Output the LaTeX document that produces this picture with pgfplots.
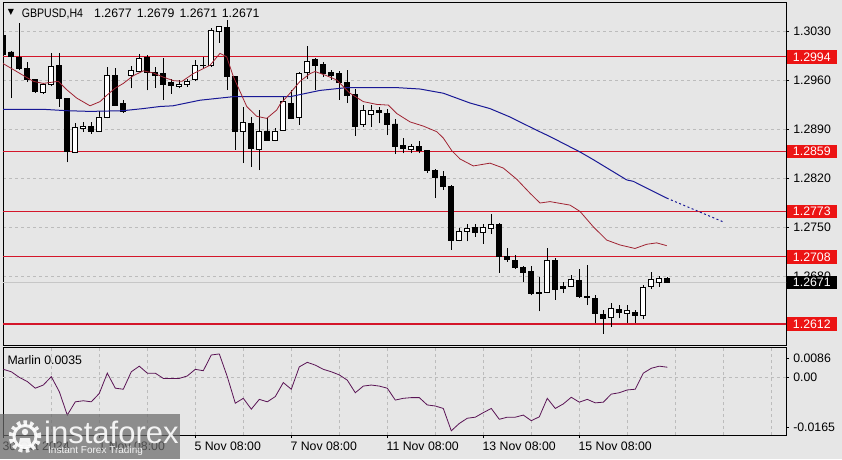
\documentclass[border=0pt]{standalone}
\usepackage{graphicx}
\usepackage{pgfplots}
\pgfplotsset{compat=1.18}
\usepackage{pgfplotstable}
\usepackage{fontspec}
\setmainfont{Liberation Sans}
\newfontfamily\symfont{DejaVu Sans}
\definecolor{bg}{RGB}{230,230,230}
\definecolor{gridc}{RGB}{188,188,188}
\definecolor{lvl}{RGB}{212,22,42}
\definecolor{lvlbox}{RGB}{236,20,20}
\definecolor{maRed}{RGB}{160,35,50}
\definecolor{maBlue}{RGB}{25,25,150}
\definecolor{marlin}{RGB}{90,20,85}

\pgfplotstableread{
i o h l c
0 1.3024 1.3032 1.2995 1.2998
1 1.3001 1.3002 1.2935 1.2995
2 1.2993 1.3043 1.2975 1.2978
3 1.2978 1.2987 1.2958 1.2961
4 1.2961 1.2962 1.2943 1.2944
5 1.2943 1.2956 1.2941 1.2954
6 1.2954 1.2999 1.2952 1.2980
7 1.2981 1.2999 1.2923 1.2935
8 1.2935 1.2935 1.2843 1.2859
9 1.2858 1.2900 1.2857 1.2893
10 1.2892 1.2901 1.2887 1.2895
11 1.2895 1.2901 1.2884 1.2888
12 1.2888 1.2916 1.2887 1.2908
13 1.2908 1.2980 1.2906 1.2968
14 1.2968 1.2978 1.2924 1.2925
15 1.2928 1.2933 1.2914 1.2916
16 1.2968 1.2981 1.2949 1.2974
17 1.2973 1.2998 1.2972 1.2991
18 1.2993 1.2997 1.2946 1.2971
19 1.2971 1.2980 1.2950 1.2967
20 1.2970 1.2993 1.2932 1.2954
21 1.2957 1.2962 1.2941 1.2953
22 1.2952 1.2961 1.2949 1.2955
23 1.2955 1.2963 1.2951 1.2959
24 1.2961 1.2990 1.2959 1.2981
25 1.2981 1.2994 1.2978 1.2982
26 1.2981 1.3035 1.2980 1.3032
27 1.3030 1.3038 1.3014 1.3037
28 1.3036 1.3046 1.2947 1.2966
29 1.2966 1.2967 1.2861 1.2887
30 1.2887 1.2923 1.2842 1.2900
31 1.2899 1.2908 1.2837 1.2863
32 1.2862 1.2918 1.2832 1.2887
33 1.2888 1.2906 1.2874 1.2875
34 1.2874 1.2892 1.2873 1.2888
35 1.2889 1.2937 1.2888 1.2930
36 1.2928 1.2947 1.2905 1.2906
37 1.2908 1.2972 1.2897 1.2970
38 1.2971 1.3009 1.2963 1.2987
39 1.2990 1.2993 1.2947 1.2982
40 1.2983 1.2987 1.2965 1.2970
41 1.2971 1.2975 1.2961 1.2967
42 1.2970 1.2974 1.2933 1.2957
43 1.2957 1.2975 1.2928 1.2939
44 1.2940 1.2948 1.2881 1.2895
45 1.2897 1.2925 1.2894 1.2917
46 1.2912 1.2925 1.2894 1.2918
47 1.2917 1.2922 1.2899 1.2914
48 1.2913 1.2919 1.2882 1.2898
49 1.2898 1.2905 1.2855 1.2866
50 1.2867 1.2878 1.2856 1.2863
51 1.2862 1.2869 1.2856 1.2866
52 1.2866 1.2873 1.2856 1.2860
53 1.2860 1.2860 1.2828 1.2832
54 1.2832 1.2834 1.2792 1.2822
55 1.2823 1.2831 1.2804 1.2808
56 1.2809 1.2811 1.2718 1.2732
57 1.2731 1.2749 1.2730 1.2744
58 1.2744 1.2755 1.2730 1.2749
59 1.2750 1.2755 1.2737 1.2743
60 1.2743 1.2755 1.2727 1.2750
61 1.2749 1.2769 1.2741 1.2754
62 1.2754 1.2757 1.2685 1.2709
63 1.2709 1.2720 1.2701 1.2705
64 1.2703 1.2711 1.2691 1.2693
65 1.2693 1.2695 1.2672 1.2686
66 1.2687 1.2695 1.2653 1.2655
67 1.2657 1.2679 1.2630 1.2656
68 1.2657 1.2720 1.2656 1.2703
69 1.2703 1.2706 1.2647 1.2662
70 1.2665 1.2672 1.2656 1.2663
71 1.2666 1.2682 1.2665 1.2675
72 1.2674 1.2690 1.2649 1.2651
73 1.2651 1.2696 1.2639 1.2650
74 1.2649 1.2654 1.2613 1.2627
75 1.2626 1.2632 1.2598 1.2620
76 1.2622 1.2642 1.2608 1.2634
77 1.2633 1.2639 1.2620 1.2628
78 1.2627 1.2639 1.2614 1.2631
79 1.2629 1.2632 1.2614 1.2624
80 1.2624 1.2668 1.2619 1.2664
81 1.2665 1.2687 1.2662 1.2675
82 1.2672 1.2681 1.2665 1.2677
83 1.2677 1.2679 1.2671 1.2671
}\candles

\pgfplotstableread{
i v
0 0.0023
1 0.0016
2 0.0000
3 -0.0012
4 -0.0031
5 -0.0022
6 0.0002
7 -0.0041
8 -0.0108
9 -0.0070
10 -0.0067
11 -0.0070
12 -0.0046
13 0.0012
14 -0.0031
15 -0.0034
16 0.0016
17 0.0032
18 0.0012
19 0.0012
20 -0.0003
21 -0.0003
22 -0.0003
23 0.0004
24 0.0023
25 0.0019
26 0.0064
27 0.0067
28 0.0002
29 -0.0074
30 -0.0060
31 -0.0091
32 -0.0063
33 -0.0070
34 -0.0055
35 -0.0015
36 -0.0034
37 0.0030
38 0.0043
39 0.0035
40 0.0023
41 0.0016
42 0.0007
43 -0.0008
44 -0.0044
45 -0.0025
46 -0.0022
47 -0.0025
48 -0.0031
49 -0.0065
50 -0.0060
51 -0.0058
52 -0.0058
53 -0.0079
54 -0.0082
55 -0.0089
56 -0.0153
57 -0.0132
58 -0.0117
59 -0.0114
60 -0.0101
61 -0.0089
62 -0.0120
63 -0.0114
64 -0.0114
65 -0.0108
66 -0.0124
67 -0.0113
68 -0.0060
69 -0.0089
70 -0.0076
71 -0.0057
72 -0.0071
73 -0.0063
74 -0.0073
75 -0.0071
76 -0.0048
77 -0.0044
78 -0.0036
79 -0.0034
80 0.0012
81 0.0026
82 0.0032
83 0.0029
}\marlin

\pgfplotsset{
  mainpanel/.style={
    scale only axis, anchor=south west, at={(3pt,113.3pt)},
    width=783pt, height=342.7pt,
    xmin=-0.0375, xmax=97.84, ymin=1.258095, ymax=1.307101,
    scaled ticks=false,
  },
  tick label style={font=\fontsize{12.3}{14}\selectfont},
}
\tikzset{lbl/.style={anchor=west, inner sep=0pt, minimum width=50pt, minimum height=13.5pt, text=white, font=\fontsize{12.3}{14}\selectfont, xshift=0.6pt}}

\begin{document}
\fontsize{12.3}{14}\selectfont
\begin{tikzpicture}[x=1pt,y=1pt]
\fill[bg] (0,0) rectangle (842,459);
\useasboundingbox (0,0) rectangle (842,459);

% ---------- main panel: grid, levels, wicks
\begin{axis}[mainpanel,
  axis background/.style={fill=bg},
  axis line style={black, line width=1pt},
  xtick=\empty, minor xtick={6,12,...,96}, xminorgrids, minor tick length=0pt,
  ytick={1.2680,1.2750,1.2820,1.2890,1.2960,1.3030},
  yticklabels={1.2680,1.2750,1.2820,1.2890,1.2960,1.3030},
  ymajorgrids, ytick pos=right, yticklabel pos=right, tick align=outside,
  major tick length=3pt,
  grid style={gridc, dash pattern=on 3pt off 3pt, line width=0.7pt},
  tick style={black, line width=0.8pt},
  clip mode=individual,
]
\addplot[gray!45, line width=0.7pt] coordinates {(-1,1.2671) (99,1.2671)};
\addplot[lvl, line width=1.2pt] coordinates {(-1,1.2994) (99,1.2994)};
\addplot[lvl, line width=1.2pt] coordinates {(-1,1.2859) (99,1.2859)};
\addplot[lvl, line width=1.2pt] coordinates {(-1,1.2773) (99,1.2773)};
\addplot[lvl, line width=1.2pt] coordinates {(-1,1.2708) (99,1.2708)};
\addplot[lvl, line width=1.2pt] coordinates {(-1,1.2612) (99,1.2612)};
\addplot[draw=none, mark=none,
  error bars/.cd, y dir=plus, y explicit, error mark=none,
  error bar style={draw=black, solid, line width=1pt}]
  table[x=i, y=l, y error plus expr=\thisrow{h}-\thisrow{l}] {\candles};
\end{axis}

% ---------- candle bodies
\begin{axis}[mainpanel, hide axis, ybar stacked, bar width=5pt]
\addplot[draw=none, fill=none] table[x=i, y expr={min(\thisrow{o},\thisrow{c})}] {\candles};
\addplot[draw=black, fill=black, line width=0.9pt] table[x=i, y expr={max(\thisrow{o}-\thisrow{c},0)}] {\candles};
\addplot[draw=black, fill=white, line width=0.9pt] table[x=i, y expr={max(\thisrow{c}-\thisrow{o},0)}] {\candles};
\end{axis}

% ---------- moving averages and price labels
\begin{axis}[mainpanel, hide axis, clip mode=individual]
\addplot[maBlue, line width=1pt] coordinates {
(-0.04,1.2919) (4.96,1.2919) (7.93,1.2917) (10.84,1.2916) (14.96,1.2917)
(17.46,1.2920) (19.59,1.2923) (21.21,1.2924) (24.59,1.2932) (28.71,1.2937)
(33.34,1.2937) (35.84,1.2937) (37.5,1.2941) (39.59,1.2946) (42.93,1.2950)
(49.18,1.2950) (52.09,1.2948) (55.0,1.2942) (58.34,1.2928) (60.84,1.2920)
(63.34,1.2908) (66.68,1.2889) (68.34,1.2880) (72.09,1.2858) (73.75,1.2847)
(77.93,1.2818) (78.75,1.2816) (82.93,1.2792)};
\addplot[maBlue, line width=1pt, dash pattern=on 2pt off 2.5pt] coordinates {(82.93,1.2792) (90.0,1.2758)};
\addplot[maRed, line width=0.8pt] coordinates {
(-0.41,1.2987) (2.71,1.2966) (3.75,1.2959) (5.0,1.2956) (6.88,1.2959)
(7.93,1.2947) (9.18,1.2935) (10.84,1.2924) (12.09,1.2930) (12.93,1.2939)
(13.96,1.2949) (15.0,1.2956) (16.25,1.2967) (17.5,1.2974) (18.75,1.2971)
(20.0,1.2965) (21.25,1.2960) (22.34,1.2959) (23.75,1.2970) (25.84,1.2982)
(27.09,1.2999) (27.93,1.2994) (28.75,1.2966) (30.43,1.2923) (31.68,1.2909)
(32.93,1.2906) (34.18,1.2918) (34.59,1.2926) (35.84,1.2942) (37.09,1.2959)
(38.34,1.2970) (38.96,1.2973) (40.21,1.2968) (41.68,1.2961) (43.34,1.2942)
(45.0,1.2930) (46.68,1.2926) (48.13,1.2925) (49.18,1.2913) (50.84,1.2901)
(52.5,1.2895) (54.18,1.2887) (55.0,1.2878) (56.05,1.2860) (57.09,1.2848)
(58.75,1.2838) (60.84,1.2842) (62.5,1.2835) (64.18,1.2819) (65.84,1.2799)
(67.09,1.2785) (68.34,1.2787) (70.84,1.2782) (72.09,1.2773) (73.75,1.2751)
(75.43,1.2732) (77.09,1.2725) (78.96,1.2720) (80.43,1.2726) (81.68,1.2728)
(82.93,1.2724)};
\node[lbl, fill=lvlbox] at (axis cs:97.84,1.2994) {1.2994};
\node[lbl, fill=lvlbox] at (axis cs:97.84,1.2859) {1.2859};
\node[lbl, fill=lvlbox] at (axis cs:97.84,1.2773) {1.2773};
\node[lbl, fill=lvlbox] at (axis cs:97.84,1.2708) {1.2708};
\node[lbl, fill=lvlbox] at (axis cs:97.84,1.2612) {1.2612};
\node[lbl, fill=black] at (axis cs:97.84,1.2671) {1.2671};
\end{axis}

% ---------- indicator panel
\begin{axis}[
  scale only axis, anchor=south west, at={(3pt,24pt)},
  width=783pt, height=87.7pt,
  xmin=-0.0375, xmax=97.84, ymin=-0.0165, ymax=0.0086,
  scaled ticks=false,
  axis background/.style={fill=bg},
  axis line style={black, line width=1pt},
  xtick={0,12,...,72},
  xticklabels={30 Oct 2024,1 Nov 08:00,5 Nov 08:00,7 Nov 08:00,11 Nov 08:00,13 Nov 08:00,15 Nov 08:00},
  xtick pos=bottom,
  xticklabel style={anchor=north west, xshift=-5pt, yshift=0pt},
  minor xtick={6,12,...,96}, xminorgrids, minor tick length=0pt,
  ytick={0.0054,-0.0144}, yticklabels={0.0086,-0.0165},
  extra y ticks={0}, extra y tick labels={0.00}, extra y tick style={grid=major},
  ytick pos=right, yticklabel pos=right, tick align=outside,
  major tick length=3pt,
  grid style={gridc, dash pattern=on 3pt off 3pt, line width=0.7pt},
  tick style={black, line width=0.8pt},
]
\addplot[marlin, line width=0.8pt] table[x=i, y=v] {\marlin};
\end{axis}

% ---------- texts
\node[font={\symfont\fontsize{8}{9}\selectfont}] at (11,446.5) {▼};
\node[anchor=base west, inner sep=0pt] at (21.7,441.7) {\scalebox{0.86}[1]{GBPUSD,H4}};
\node[anchor=base west, inner sep=0pt] at (94,441.7) {1.2677};
\node[anchor=base west, inner sep=0pt] at (136.7,441.7) {1.2679};
\node[anchor=base west, inner sep=0pt] at (179.3,441.7) {1.2671};
\node[anchor=base west, inner sep=0pt] at (221.7,441.7) {1.2671};
\node[anchor=base west, inner sep=0pt] at (7.3,95) {Marlin 0.0035};

% ---------- watermark
\fill[black!58, opacity=0.72] (0,0) rectangle (180,45);
\begin{scope}[opacity=0.9]
\draw[white, line width=5.5pt, dash pattern=on 3.4pt off 3pt] (25,22.5) circle (13.5);
\draw[white, line width=3pt] (25,22.5) circle (11);
\fill[white] (25,27) circle (3.2);
\fill[white] (18.5,13) -- (20,21) -- (30,21) -- (31.5,13) -- cycle;
\node[anchor=base west, inner sep=0pt, text=white, font=\fontsize{31}{32}\selectfont] at (44,15.7) {instaforex};
\node[anchor=base west, inner sep=0pt, text=white, font=\fontsize{10}{11}\selectfont] at (48,6) {Instant Forex Trading};
\end{scope}
\end{tikzpicture}
\end{document}
